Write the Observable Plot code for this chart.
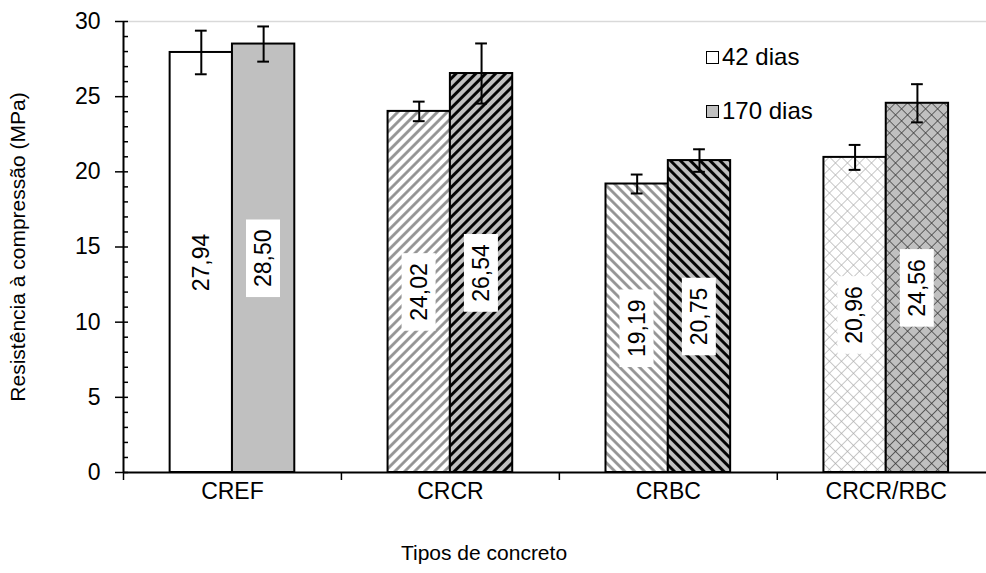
<!DOCTYPE html>
<html><head><meta charset="utf-8">
<script src="https://cdn.jsdelivr.net/npm/d3@7"></script>
<script src="https://cdn.jsdelivr.net/npm/@observablehq/plot@0.6"></script>
<style>
body{margin:0;background:#fff;}
#chart{position:relative;width:986px;height:573px;font-family:"Liberation Sans",Arial,sans-serif;}
.legend{position:absolute;left:706px;font-size:24px;line-height:26px;display:flex;align-items:center;color:#000;font-family:"Liberation Sans",Arial,sans-serif;}
.sw{width:11px;height:11px;border:1.6px solid #000;margin-right:3px;}
</style></head><body><div id="chart"></div>
<script>
const categories = ["CREF", "CRCR", "CRBC", "CRCR/RBC"];
const seriesNames = ["42 dias", "170 dias"];
const values42 = [27.94, 24.02, 19.19, 20.96];
const values170 = [28.50, 26.54, 20.75, 24.56];
const err42 = [1.45, 0.65, 0.63, 0.83];
const err170 = [1.17, 2.00, 0.75, 1.27];
const yTicks = [0, 5, 10, 15, 20, 25, 30];

const W = 0.286;      // bar width in category units
const xMax = 3.96;    // visible part of the 4-category axis
const rows = categories.flatMap((c, i) => [
  {cat: c, i, s: 0, v: values42[i], e: err42[i]},
  {cat: c, i, s: 1, v: values170[i], e: err170[i]}
]);
const cx = d => d.i + 0.5 + (d.s === 0 ? -W / 2 : W / 2);
const fmt = v => v.toFixed(2).replace(".", ",");
const FONT = 23;
const TFONT = 21;

const plot = Plot.plot({
  width: 986, height: 573,
  marginLeft: 123, marginRight: 0, marginTop: 21, marginBottom: 101,
  style: {fontFamily: "Liberation Sans, Arial, sans-serif", fontSize: FONT + "px", color: "#000", background: "#fff", overflow: "visible"},
  x: {domain: [0, xMax], axis: null},
  y: {domain: [0, 30], axis: null},
  color: {type: "identity"},
  marks: [
    Plot.ruleY([30], {stroke: "#d9d9d9", strokeWidth: 1.5}),
    Plot.rect(rows, {
      x1: d => d.i + 0.5 - (d.s === 0 ? W : 0),
      x2: d => d.i + 0.5 + (d.s === 1 ? W : 0),
      y1: 0, y2: "v",
      fill: d => `url(#pat${d.i}${d.s})`,
      stroke: "#000", strokeWidth: 2
    }),
    Plot.ruleX(rows, {x: cx, y1: d => d.v - d.e, y2: d => d.v + d.e, stroke: "#000", strokeWidth: 2}),
    Plot.ruleY(rows, {x1: d => cx(d) - 0.027, x2: d => cx(d) + 0.027, y: d => d.v + d.e, stroke: "#000", strokeWidth: 2}),
    Plot.ruleY(rows, {x1: d => cx(d) - 0.027, x2: d => cx(d) + 0.027, y: d => d.v - d.e, stroke: "#000", strokeWidth: 2}),
    Plot.text(rows, {x: cx, y: d => d.v / 2, text: d => fmt(d.v), rotate: -90, fontSize: FONT, fill: "#000"}),
    // axes
    Plot.axisY(d3.range(0, 31, 1), {anchor: "left", tickSize: -5, tickFormat: () => "", label: null, strokeWidth: 1.5}),
    Plot.axisY(yTicks, {anchor: "left", tickSize: 8, tickPadding: 15, label: null, strokeWidth: 1.5, fontSize: FONT}),
    Plot.axisX(d3.range(0, 4), {anchor: "bottom", tickSize: 8, tickFormat: () => "", label: null, strokeWidth: 1.5}),
    Plot.text(categories, {x: (d, i) => i + 0.5, frameAnchor: "bottom", lineAnchor: "middle", dy: 19, fontSize: FONT, fill: "#000"}),
    Plot.ruleX([0], {stroke: "#000", strokeWidth: 2}),
    Plot.ruleY([0], {stroke: "#000", strokeWidth: 2}),
    Plot.text(["Tipos de concreto"], {frameAnchor: "bottom", lineAnchor: "middle", textAnchor: "middle", dy: 81, dx: -71, fontSize: TFONT, fill: "#000"}),
    Plot.text(["Resistência à compressão (MPa)"], {frameAnchor: "left", textAnchor: "middle", lineAnchor: "middle", rotate: -90, dx: -105, fontSize: TFONT, fill: "#000"})
  ]
});

const chart = document.getElementById("chart");
chart.appendChild(plot);

const ns = "http://www.w3.org/2000/svg";
const defs = document.createElementNS(ns, "defs");
const stripes = (id, rot, bg, fg, sw, size) =>
  `<pattern id="${id}" patternUnits="userSpaceOnUse" width="${size}" height="${size}" patternTransform="rotate(${rot})">
     <rect width="${size}" height="${size}" fill="${bg}"/>
     <line x1="${size/2}" y1="-1" x2="${size/2}" y2="${size+1}" stroke="${fg}" stroke-width="${sw}"/>
   </pattern>`;
const cross = (id, bg, fg, sw, size) =>
  `<pattern id="${id}" patternUnits="userSpaceOnUse" width="${size}" height="${size}" patternTransform="rotate(45)">
     <rect width="${size}" height="${size}" fill="${bg}"/>
     <line x1="0" y1="0" x2="0" y2="${size}" stroke="${fg}" stroke-width="${sw}"/>
     <line x1="0" y1="0" x2="${size}" y2="0" stroke="${fg}" stroke-width="${sw}"/>
   </pattern>`;
defs.innerHTML =
  `<pattern id="pat00" patternUnits="userSpaceOnUse" width="4" height="4"><rect width="4" height="4" fill="#ffffff"/></pattern>` +
  `<pattern id="pat01" patternUnits="userSpaceOnUse" width="4" height="4"><rect width="4" height="4" fill="#c0c0c0"/></pattern>` +
  stripes("pat10", 45, "#ffffff", "#8f8f8f", 2.7, 7) +
  stripes("pat11", 45, "#c0c0c0", "#000000", 2.9, 7) +
  stripes("pat20", -45, "#ffffff", "#8f8f8f", 2.7, 7) +
  stripes("pat21", -45, "#c0c0c0", "#000000", 2.9, 7) +
  cross("pat30", "#ffffff", "#ababab", 1.3, 8.5) +
  cross("pat31", "#c0c0c0", "#333333", 1.4, 8.5);
plot.insertBefore(defs, plot.firstChild);

// white boxes behind value labels
Array.from(plot.querySelectorAll("text"))
  .filter(t => /^\d+,\d\d$/.test(t.textContent.trim()))
  .forEach(t => {
    const bb = t.getBBox();
    const r = document.createElementNS(ns, "rect");
    r.setAttribute("x", bb.x - 10);
    r.setAttribute("y", bb.y - 4);
    r.setAttribute("width", bb.width + 20);
    r.setAttribute("height", bb.height + 8);
    r.setAttribute("fill", "#fff");
    const tr = t.getAttribute("transform");
    if (tr) r.setAttribute("transform", tr);
    t.parentNode.insertBefore(r, t);
  });

// legend
const swFill = ["#ffffff", "#c0c0c0"];
seriesNames.forEach((name, k) => {
  const div = document.createElement("div");
  div.className = "legend";
  div.style.top = (k === 0 ? 44 : 98) + "px";
  div.innerHTML = `<span class="sw" style="background:${swFill[k]}"></span><span>${name}</span>`;
  chart.appendChild(div);
});
</script></body></html>
